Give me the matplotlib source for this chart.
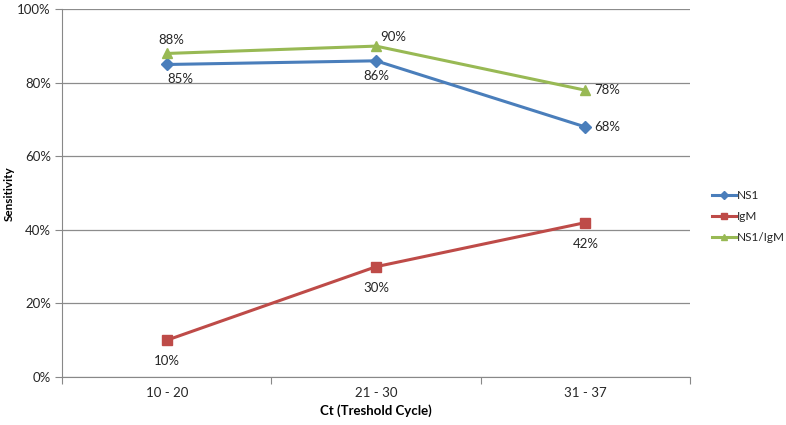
import matplotlib
matplotlib.use("Agg")
import matplotlib.pyplot as plt
from matplotlib.ticker import PercentFormatter

plt.rcParams['font.family'] = ['Lato', 'DejaVu Sans']
plt.rcParams['text.color'] = '#262626'

categories = ["10 - 20", "21 - 30", "31 - 37"]
ns1 = [85, 86, 68]
igm = [10, 30, 42]
ns1_igm = [88, 90, 78]

fig = plt.figure(figsize=(7.86, 4.25), dpi=100)
ax = fig.add_axes([0.079, 0.113, 0.799, 0.865])

x = [0.5, 1.5, 2.5]
ax.plot(x, ns1, color="#4A7EBB", lw=2.2, marker="D", ms=6, label="NS1")
ax.plot(x, igm, color="#BE4B48", lw=2.2, marker="s", ms=7, label="IgM")
ax.plot(x, ns1_igm, color="#98B954", lw=2.2, marker="^", ms=7, label="NS1/IgM")

# data labels
fs = 9.5
ax.annotate(f"{ns1[0]}%", (x[0], ns1[0]), xytext=(10, -13), textcoords="offset points", ha="center", fontsize=fs)
ax.annotate(f"{ns1[1]}%", (x[1], ns1[1]), xytext=(0, -14), textcoords="offset points", ha="center", fontsize=fs)
ax.annotate(f"{ns1[2]}%", (x[2], ns1[2]), xytext=(6, 0), textcoords="offset points", ha="left", va="center", fontsize=fs)
ax.annotate(f"{ns1_igm[0]}%", (x[0], ns1_igm[0]), xytext=(3, 7), textcoords="offset points", ha="center", fontsize=fs)
ax.annotate(f"{ns1_igm[1]}%", (x[1], ns1_igm[1]), xytext=(12, 4), textcoords="offset points", ha="center", fontsize=fs)
ax.annotate(f"{ns1_igm[2]}%", (x[2], ns1_igm[2]), xytext=(6, 0), textcoords="offset points", ha="left", va="center", fontsize=fs)
for xi, v in zip(x, igm):
    ax.annotate(f"{v}%", (xi, v), xytext=(0, -18), textcoords="offset points", ha="center", fontsize=fs)

ax.set_xlim(0, 3)
ax.set_ylim(0, 100)
ax.set_yticks(range(0, 101, 20))
ax.yaxis.set_major_formatter(PercentFormatter(decimals=0))
ax.set_xticks([0, 1, 2, 3])
ax.set_xticks(x, minor=True)
ax.set_xticklabels([])
ax.set_xticklabels(categories, minor=True)
ax.tick_params(axis="x", which="major", length=5, color="#888888")
ax.tick_params(axis="x", which="minor", length=0, pad=7, labelsize=9.5, labelcolor="#262626")
ax.tick_params(axis="y", length=5, color="#888888", labelsize=9.5, labelcolor="#262626", pad=3)
ax.grid(axis="y", color="#8c8c8c", lw=0.9)
ax.set_axisbelow(True)
for s in ["top", "right"]:
    ax.spines[s].set_visible(False)
for s in ["left", "bottom"]:
    ax.spines[s].set_color("#888888")

ax.set_xlabel("Ct (Treshold Cycle)", fontsize=9.5, fontweight="bold", labelpad=4)
ax.set_ylabel("Sensitivity", fontsize=8.5, fontweight="bold", labelpad=2)

ax.legend(loc="center left", bbox_to_anchor=(1.035, 0.436), frameon=False, fontsize=8.5,
          handlelength=2.0, labelspacing=0.85, handletextpad=0.1, markerscale=0.7,
          borderpad=0, borderaxespad=0)

fig.savefig("out.png", dpi=100)
